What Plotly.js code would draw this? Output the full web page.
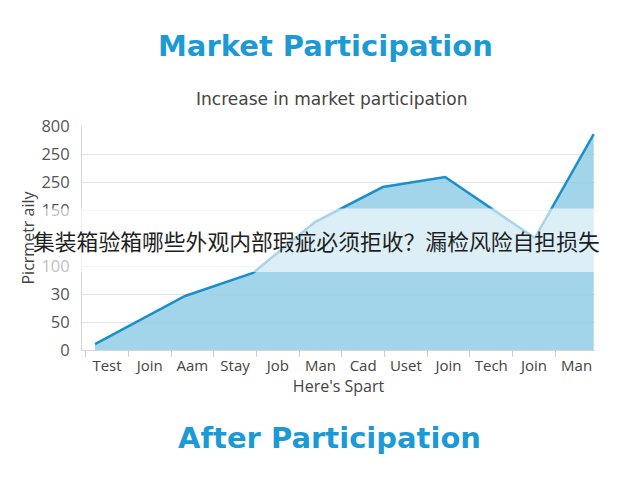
<!DOCTYPE html>
<html>
<head>
<meta charset="utf-8">
<script src="https://cdn.plot.ly/plotly-3.0.1.min.js"></script>
<style>
  html, body { margin: 0; padding: 0; background: #fff; }
  #plot { width: 640px; height: 480px; }
</style>
</head>
<body>
<div id="plot"></div>
<script>
// categories along the bottom (some repeat, so the axis is numeric with tick text)
var categories = ['Test', 'Join', 'Aam', 'Stay', 'Job', 'Man', 'Cad', 'Uset', 'Join', 'Tech', 'Join', 'Man'];
// where the line bends, in category units, and its height there
var pointPos = [-0.28, 1.83, 3.42, 4.87, 6.46, 7.92, 10.02, 11.4];
var participation = [21, 193, 275, 457, 582, 618, 400, 771];
// y tick labels as printed on the chart (the fifth one sits under the banner)
var yTickVals = [0, 100, 200, 300, 400, 500, 600, 700, 800];
var yTickText = ['0', '50', '30', '100', '', '150', '250', '250', '800'];

var banner = '集装箱验箱哪些外观内部瑕疵必须拒收？漏检风险自担损失';

var trace = {
  x: pointPos,
  y: participation,
  type: 'scatter',
  mode: 'lines',
  fill: 'tozeroy',
  fillcolor: 'rgba(140,203,229,0.8)',
  line: { color: '#1a8fca', width: 2.5 },
  hoverinfo: 'skip'
};

var tickFont = { family: 'Open Sans, sans-serif', size: 15, color: '#444' };

var layout = {
  width: 640,
  height: 480,
  paper_bgcolor: '#ffffff',
  plot_bgcolor: '#ffffff',
  showlegend: false,
  margin: { l: 82, r: 45, t: 126, b: 130 },
  xaxis: {
    range: [-0.585, 11.43],
    tickvals: categories.map(function(c, i) { return i; }),
    ticktext: categories,
    tickfont: tickFont,
    ticks: 'outside',
    ticklen: 2,
    tickcolor: 'rgba(0,0,0,0)',
    minor: { tick0: 0.5, dtick: 1, ticks: 'outside', ticklen: 6, tickcolor: '#cfcfcf', showgrid: false },
    showgrid: false,
    zeroline: false,
    showline: true,
    linecolor: '#d5d5d5',
    linewidth: 1,
    title: { text: "Here's Spart", font: { family: 'Open Sans, sans-serif', size: 16, color: '#444' }, standoff: 2 }
  },
  yaxis: {
    range: [0, 800],
    tickvals: yTickVals,
    ticktext: yTickText,
    tickfont: { family: 'Open Sans, sans-serif', size: 16.5, color: '#555' },
    ticks: '',
    ticklabelstandoff: 8,
    showgrid: true,
    gridcolor: '#e4e4e4',
    zeroline: false,
    showline: true,
    linecolor: '#d5d5d5',
    linewidth: 1,
    title: { text: 'Picrmetr aily', font: { family: 'Open Sans, sans-serif', size: 16, color: '#444' }, standoff: 2 }
  },
  shapes: [{
    type: 'rect', xref: 'paper', yref: 'paper',
    x0: -0.16, x1: 1.0, y0: 0.348, y1: 0.632,
    fillcolor: 'rgba(255,255,255,0.62)', line: { width: 0 }, layer: 'above'
  }],
  annotations: [
    {
      text: '<b>Market Participation</b>', xref: 'paper', yref: 'paper',
      x: 0.475, y: 1.355, xanchor: 'center', yanchor: 'middle', showarrow: false,
      font: { family: 'DejaVu Sans, sans-serif', size: 29, color: '#1c9ad6' }
    },
    {
      text: 'Increase in market participation', xref: 'paper', yref: 'paper',
      x: 0.486, y: 1.122, xanchor: 'center', yanchor: 'middle', showarrow: false,
      font: { family: 'DejaVu Sans, sans-serif', size: 17, color: '#444' }
    },
    {
      text: '<b>After Participation</b>', xref: 'paper', yref: 'paper',
      x: 0.482, y: -0.393, xanchor: 'center', yanchor: 'middle', showarrow: false,
      font: { family: 'DejaVu Sans, sans-serif', size: 29, color: '#1c9ad6' }
    },
    {
      text: banner, xref: 'paper', yref: 'paper',
      x: -0.1, y: 0.49, xanchor: 'left', yanchor: 'middle', showarrow: false,
      font: { family: 'Noto Sans CJK SC, sans-serif', size: 21.8, color: '#1e1e1e' }
    }
  ]
};

Plotly.newPlot('plot', [trace], layout, { staticPlot: true, displayModeBar: false });
</script>
</body>
</html>
